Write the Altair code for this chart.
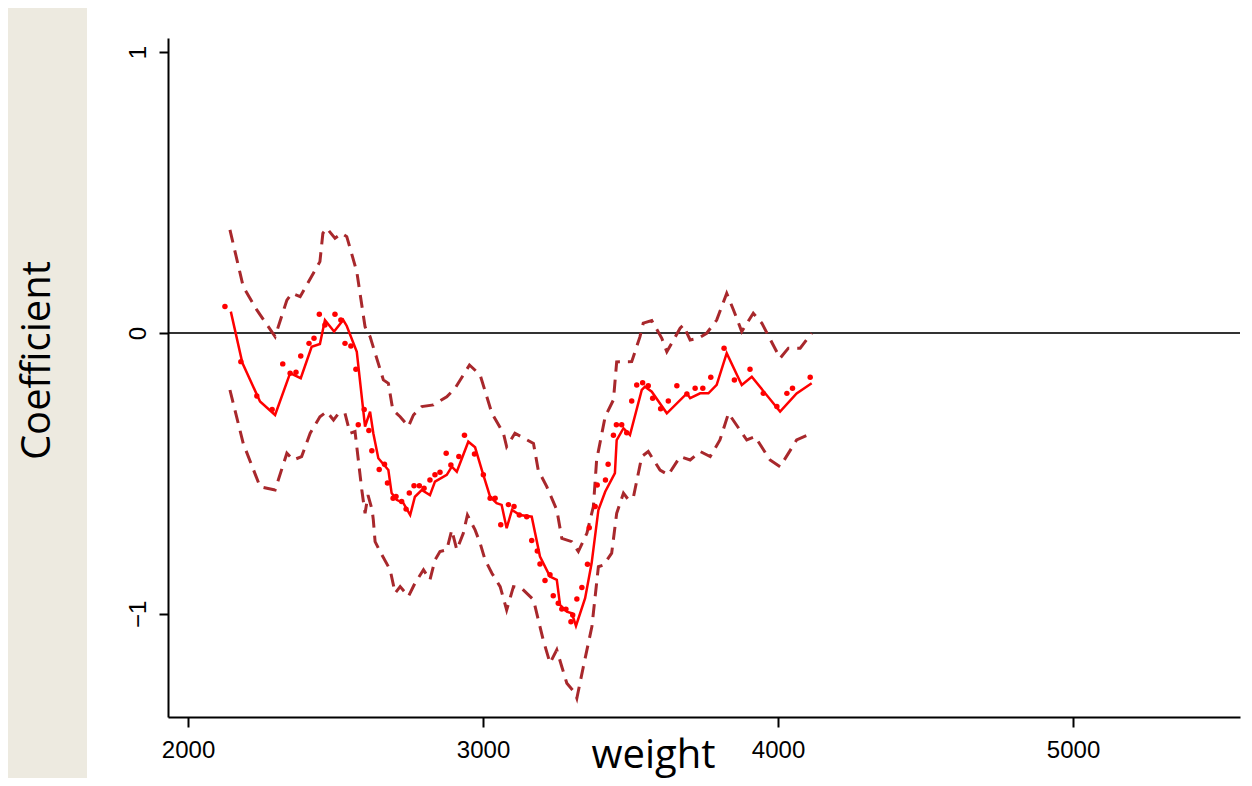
import altair as alt
import pandas as pd

# smoothed coefficient line
line_w = [2145, 2184, 2244, 2295, 2346, 2382, 2419, 2447, 2464, 2495, 2526, 2538, 2572, 2600,
          2617, 2628, 2645, 2679, 2690, 2707, 2730, 2753, 2769, 2792, 2820, 2837, 2877, 2894,
          2911, 2950, 2973, 2996, 3024, 3046, 3063, 3080, 3098, 3125, 3165, 3193, 3227, 3250,
          3261, 3284, 3301, 3315, 3346, 3368, 3391, 3414, 3447, 3453, 3476, 3498, 3538, 3549,
          3572, 3623, 3691, 3702, 3736, 3764, 3792, 3826, 3877, 3911, 4007, 4063, 4114]
line_c = [0.076, -0.106, -0.244, -0.292, -0.143, -0.161, -0.049, -0.039, 0.046, 0.005, 0.046,
          0.025, -0.067, -0.333, -0.280, -0.357, -0.446, -0.488, -0.570, -0.594, -0.606, -0.648,
          -0.583, -0.559, -0.577, -0.529, -0.505, -0.476, -0.494, -0.387, -0.407, -0.488, -0.583,
          -0.606, -0.612, -0.695, -0.630, -0.648, -0.654, -0.796, -0.867, -0.879, -0.968, -0.992,
          -0.998, -1.043, -0.944, -0.820, -0.630, -0.565, -0.499, -0.381, -0.339, -0.363, -0.203,
          -0.191, -0.209, -0.286, -0.215, -0.232, -0.215, -0.215, -0.185, -0.072, -0.185, -0.156,
          -0.280, -0.215, -0.179]

# upper confidence band
upper_w = [2142, 2187, 2233, 2295, 2335, 2352, 2380, 2447, 2457, 2470, 2498, 2521, 2538, 2572,
           2600, 2617, 2662, 2679, 2694, 2719, 2747, 2764, 2792, 2832, 2877, 2905, 2954, 2990,
           3030, 3069, 3080, 3108, 3171, 3187, 3216, 3250, 3267, 3301, 3323, 3352, 3374, 3385,
           3414, 3442, 3453, 3504, 3532, 3543, 3572, 3606, 3623, 3668, 3679, 3702, 3730, 3758,
           3792, 3826, 3849, 3877, 3916, 3945, 4007, 4035, 4075, 4114]
upper_c = [0.367, 0.165, 0.082, -0.013, 0.117, 0.141, 0.129, 0.254, 0.355, 0.373, 0.337, 0.355,
           0.343, 0.218, 0.022, -0.013, -0.167, -0.179, -0.274, -0.298, -0.333, -0.292, -0.262,
           -0.256, -0.227, -0.197, -0.114, -0.149, -0.286, -0.357, -0.405, -0.357, -0.393, -0.488,
           -0.547, -0.630, -0.731, -0.743, -0.778, -0.713, -0.618, -0.452, -0.298, -0.238, -0.103,
           -0.102, -0.013, 0.035, 0.044, -0.019, -0.067, 0.017, 0.028, -0.025, -0.019, -0.001,
           0.046, 0.141, 0.082, 0.005, 0.070, 0.035, -0.090, -0.054, -0.054, -0.001]

# lower confidence band
lower_w = [2142, 2187, 2244, 2295, 2335, 2357, 2385, 2414, 2447, 2470, 2493, 2510, 2532, 2549,
           2566, 2589, 2600, 2610, 2624, 2628, 2634, 2651, 2685, 2702, 2719, 2747, 2769, 2798,
           2820, 2837, 2854, 2877, 2894, 2911, 2933, 2947, 2973, 2990, 3007, 3030, 3058, 3080,
           3103, 3131, 3171, 3204, 3227, 3250, 3267, 3284, 3312, 3318, 3340, 3369, 3391, 3408,
           3436, 3453, 3476, 3493, 3510, 3538, 3560, 3600, 3628, 3668, 3702, 3736, 3770, 3803,
           3832, 3894, 3922, 3973, 4007, 4063, 4114]
lower_c = [-0.203, -0.393, -0.547, -0.559, -0.428, -0.452, -0.440, -0.357, -0.298, -0.280, -0.310,
           -0.286, -0.286, -0.357, -0.351, -0.559, -0.642, -0.577, -0.630, -0.665, -0.743, -0.778,
           -0.843, -0.926, -0.903, -0.938, -0.891, -0.843, -0.879, -0.808, -0.778, -0.772, -0.701,
           -0.772, -0.713, -0.648, -0.701, -0.748, -0.808, -0.855, -0.903, -0.986, -0.903, -0.909,
           -0.950, -1.093, -1.175, -1.128, -1.188, -1.247, -1.282, -1.300, -1.188, -1.045, -0.832,
           -0.826, -0.784, -0.642, -0.570, -0.594, -0.583, -0.440, -0.422, -0.488, -0.505, -0.440,
           -0.452, -0.422, -0.440, -0.381, -0.286, -0.381, -0.369, -0.452, -0.476, -0.381, -0.357]

# raw coefficient points
dot_w = [2125, 2179, 2233, 2285, 2321, 2346, 2366, 2382, 2410, 2427, 2445, 2464, 2498, 2518,
         2532, 2552, 2569, 2577, 2597, 2613, 2623, 2648, 2666, 2676, 2695, 2705, 2724, 2739,
         2750, 2766, 2784, 2800, 2820, 2837, 2854, 2875, 2891, 2918, 2937, 2971, 3001, 3024,
         3041, 3060, 3086, 3105, 3123, 3148, 3165, 3184, 3193, 3210, 3227, 3238, 3255, 3267,
         3281, 3298, 3304, 3318, 3335, 3354, 3360, 3380, 3387, 3415, 3424, 3442, 3452, 3470,
         3487, 3504, 3521, 3541, 3560, 3575, 3602, 3628, 3657, 3691, 3719, 3745, 3772, 3817,
         3852, 3905, 3950, 3996, 4030, 4049, 4109]
dot_c = [0.094, -0.102, -0.224, -0.272, -0.110, -0.143, -0.140, -0.082, -0.037, -0.019, 0.067,
         0.028, 0.067, 0.046, -0.037, -0.046, -0.129, -0.327, -0.272, -0.347, -0.419, -0.486,
         -0.467, -0.534, -0.588, -0.582, -0.600, -0.627, -0.570, -0.544, -0.544, -0.553, -0.523,
         -0.505, -0.496, -0.428, -0.470, -0.440, -0.364, -0.431, -0.505, -0.588, -0.588, -0.683,
         -0.611, -0.618, -0.648, -0.654, -0.739, -0.776, -0.822, -0.881, -0.861, -0.935, -0.962,
         -0.983, -0.983, -1.028, -1.004, -0.947, -0.906, -0.823, -0.693, -0.618, -0.541, -0.523,
         -0.467, -0.364, -0.327, -0.327, -0.355, -0.242, -0.185, -0.177, -0.188, -0.232, -0.270,
         -0.242, -0.188, -0.217, -0.197, -0.197, -0.158, -0.054, -0.167, -0.129, -0.215, -0.262,
         -0.215, -0.197, -0.158]

x_ticks = [2000, 3000, 4000, 5000]
y_ticks = [-1, 0, 1]

line_df = pd.DataFrame({"w": line_w, "c": line_c, "i": range(len(line_w))})
upper_df = pd.DataFrame({"w": upper_w, "c": upper_c, "i": range(len(upper_w))})
lower_df = pd.DataFrame({"w": lower_w, "c": lower_c, "i": range(len(lower_w))})
dot_df = pd.DataFrame({"w": dot_w, "c": dot_c})

xscale = alt.Scale(domain=[1932, 5566], nice=False, zero=False)
yscale = alt.Scale(domain=[-1.367, 1.05], nice=False, zero=False)

xaxis = alt.Axis(values=x_ticks, format="d", title="weight", grid=False, zindex=2,
                 tickSize=10, labelPadding=11, labelBaseline="top",
                 titleX=485, titleY=50, titleAlign="center", titleBaseline="alphabetic",
                 titleAnchor="start")
yaxis = alt.Axis(values=y_ticks, format="d", title="Coefficient", grid=False, zindex=2,
                 tickSize=9, labelPadding=14, labelAngle=270, labelAlign="center",
                 labelBaseline="alphabetic",
                 titleX=-119, titleY=322, titleAngle=270, titleAlign="center",
                 titleBaseline="alphabetic", titleAnchor="start")

panel = alt.Chart(pd.DataFrame({"a": [0]})).mark_rect(color="white").encode(
    x=alt.value(-81), x2=alt.value(1084), y=alt.value(-33), y2=alt.value(748))

zero = alt.Chart(pd.DataFrame({"a": [0]})).mark_rule(color="#333333", strokeWidth=2).encode(
    y=alt.datum(0, scale=yscale))

dash_color = "#A8282C"
upper = alt.Chart(upper_df).mark_line(color=dash_color, strokeWidth=3, strokeDash=[13, 8]).encode(
    x=alt.X("w:Q", scale=xscale, axis=xaxis),
    y=alt.Y("c:Q", scale=yscale, axis=yaxis),
    order="i:Q")
lower = alt.Chart(lower_df).mark_line(color=dash_color, strokeWidth=3, strokeDash=[13, 8]).encode(
    x=alt.X("w:Q", scale=xscale),
    y=alt.Y("c:Q", scale=yscale),
    order="i:Q")
line = alt.Chart(line_df).mark_line(color="#FF0000", strokeWidth=2.5).encode(
    x=alt.X("w:Q", scale=xscale),
    y=alt.Y("c:Q", scale=yscale),
    order="i:Q")
dots = alt.Chart(dot_df).mark_circle(color="#FF0000", size=30, opacity=1).encode(
    x=alt.X("w:Q", scale=xscale),
    y=alt.Y("c:Q", scale=yscale))

chart = alt.layer(panel, zero, upper, lower, line, dots).properties(
    width=1072, height=679,
    autosize=alt.AutoSizeParams(type="none"),
    padding={"left": 160, "top": 30, "right": 4, "bottom": 61},
    background="#EDEAE0",
).configure_view(stroke=None).configure_axis(
    domainColor="black", domainWidth=2, tickColor="black", tickWidth=2,
    labelFont="Liberation Sans", labelFontSize=24, labelColor="black",
    titleFont="Open Sans", titleFontSize=40, titleFontWeight="normal", titleColor="black",
)

chart.save("out.html", embed_options={"renderer": "svg", "actions": False})
